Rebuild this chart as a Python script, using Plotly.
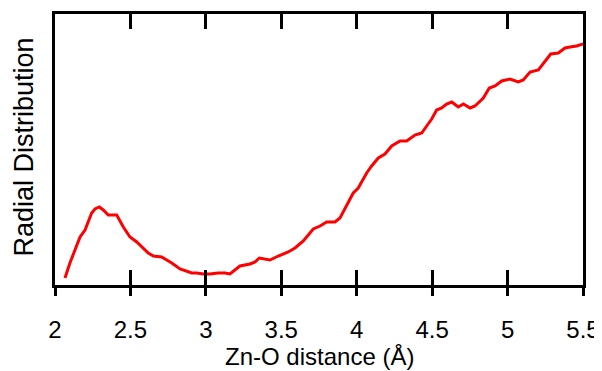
import plotly.graph_objects as go

# Zn-O radial distribution (arbitrary units)
distance = [2.066, 2.099, 2.166, 2.199, 2.243, 2.265, 2.294, 2.320, 2.353, 2.409,
            2.453, 2.497, 2.542, 2.618, 2.652, 2.707, 2.774, 2.829, 2.906, 2.939,
            2.983, 3.027, 3.082, 3.127, 3.160, 3.193, 3.226, 3.293, 3.326, 3.354,
            3.425, 3.480, 3.546, 3.591, 3.646, 3.712, 3.757, 3.801, 3.856, 3.889,
            3.922, 3.977, 4.010, 4.066, 4.099, 4.143, 4.187, 4.232, 4.287, 4.331,
            4.386, 4.431, 4.464, 4.497, 4.530, 4.563, 4.596, 4.630, 4.673, 4.707,
            4.751, 4.784, 4.839, 4.879, 4.917, 4.961, 5.016, 5.071, 5.104, 5.149,
            5.204, 5.248, 5.286, 5.336, 5.381, 5.414, 5.458, 5.500]
rdf = [7, 22, 48, 55, 72, 76, 78, 75, 70, 70,
       58, 48, 43, 32, 29, 28, 22, 16, 12, 12,
       11, 11, 12, 12, 11, 15, 19, 21, 23, 27,
       25, 29, 33, 37, 44, 56, 59, 63, 63, 67,
       77, 92, 97, 112, 119, 127, 131, 139, 144, 144,
       150, 152, 159, 166, 175, 177, 181, 183, 178, 181,
       177, 179, 187, 197, 199, 204, 206, 203, 205, 213,
       215, 223, 231, 232, 237, 238, 239, 241]

x_ticks = [2, 2.5, 3, 3.5, 4, 4.5, 5, 5.5]
x_tick_labels = ["2", "2.5", "3", "3.5", "4", "4.5", "5", "5.5"]
x_title = "Zn-O distance (Å)"
y_title = "Radial Distribution"
x_range = [2, 5.5]
y_range = [0, 271]

font_family = "Liberation Sans, Arial, sans-serif"

fig = go.Figure()
fig.add_trace(go.Scatter(x=distance, y=rdf, mode="lines",
                         line=dict(color="#ff0000", width=3),
                         showlegend=False, hoverinfo="skip"))
# invisible copy so the overlay axis (outer ticks + labels) is drawn
fig.add_trace(go.Scatter(x=distance, y=rdf, mode="lines", xaxis="x2",
                         line=dict(color="rgba(0,0,0,0)", width=0),
                         showlegend=False, hoverinfo="skip"))

# page body has an 8px default margin, so the figure is sized/offset for it
fig.update_layout(
    width=594, height=363,
    margin=dict(l=47, r=19, t=6, b=86),
    paper_bgcolor="white", plot_bgcolor="white",
    font=dict(family=font_family, color="black"),
    xaxis=dict(range=x_range, tickvals=x_ticks, ticks="inside", ticklen=15,
               tickwidth=2.5, tickcolor="black", mirror="ticks",
               showline=True, linewidth=3, linecolor="black",
               showgrid=False, zeroline=False, showticklabels=False,
               automargin=False),
    xaxis2=dict(range=x_range, overlaying="x", side="bottom", anchor="y",
                tickvals=x_ticks, ticktext=x_tick_labels, ticks="outside",
                ticklen=10, tickwidth=2.5, tickcolor="black",
                showline=False, showgrid=False, zeroline=False,
                tickfont=dict(size=24, family=font_family),
                ticklabelstandoff=13, automargin=False),
    yaxis=dict(range=y_range, showline=True, linewidth=3, linecolor="black",
               mirror=True, ticks="", showticklabels=False,
               showgrid=False, zeroline=False, automargin=False),
    annotations=[
        dict(text=x_title, xref="paper", yref="paper", x=0.5, y=0,
             xanchor="center", yanchor="middle", yshift=-71, showarrow=False,
             font=dict(size=24, family=font_family)),
        dict(text=y_title, xref="paper", yref="paper", x=0, y=0.5,
             xanchor="center", yanchor="middle", xshift=-31.5, yshift=2.5,
             textangle=-90, showarrow=False,
             font=dict(size=27, family=font_family)),
    ],
)

fig.write_html("out.html")
